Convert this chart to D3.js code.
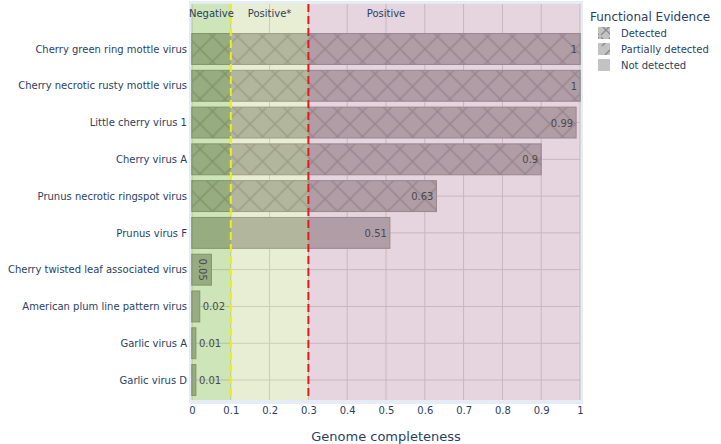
<!DOCTYPE html>
<html>
<head>
<meta charset="utf-8">
<script src="https://cdn.jsdelivr.net/npm/d3@7"></script>
<style>
  html, body { margin: 0; padding: 0; background: #fff; }
  svg { display: block; font-family: "DejaVu Sans", sans-serif; }
</style>
</head>
<body>
<svg id="chart" width="721" height="444"></svg>
<script>
// Viruses, top to bottom
const viruses = [
  "Cherry green ring mottle virus",
  "Cherry necrotic rusty mottle virus",
  "Little cherry virus 1",
  "Cherry virus A",
  "Prunus necrotic ringspot virus",
  "Prunus virus F",
  "Cherry twisted leaf associated virus",
  "American plum line pattern virus",
  "Garlic virus A",
  "Garlic virus D"
];
// Genome completeness per virus
const completeness = [1, 1, 0.99, 0.9, 0.63, 0.51, 0.05, 0.02, 0.01, 0.01];
// Functional evidence per virus
const evidence = ["Detected", "Detected", "Detected", "Detected", "Detected",
  "Not detected", "Not detected", "Not detected", "Not detected", "Not detected"];
const evidenceLevels = ["Detected", "Partially detected", "Not detected"];
// Classification bands along the completeness axis
const bandNames = ["Negative", "Positive*", "Positive"];
const bandStarts = [0, 0.1, 0.3];
const bandEnds = [0.1, 0.3, 1];
const thresholds = [0.1, 0.3];
const xTicks = [0, 0.1, 0.2, 0.3, 0.4, 0.5, 0.6, 0.7, 0.8, 0.9, 1];

const svg = d3.select("#chart");
const textColor = "#2a3f5f";

const x = d3.scaleLinear().domain([0, 1]).range([192, 580]);
const y = d3.scalePoint().domain(viruses).range([49, 380]);
const barH = y.step() * 0.84;
const plotTop = 4, plotBottom = 400;

// patterns
const defs = svg.append("defs");
const cross = defs.append("pattern").attr("id", "cross")
  .attr("patternUnits", "userSpaceOnUse").attr("width", 25).attr("height", 25)
  .attr("x", 187.5).attr("y", 36.5);
cross.append("path").attr("d", "M0,0L25,25M25,0L0,25M-1,24L1,26M24,-1L26,1M24,26L26,24M-1,1L1,-1")
  .attr("stroke", "#625a5a").attr("stroke-width", 1.3).attr("fill", "none");
const lcross = defs.append("pattern").attr("id", "lcross")
  .attr("patternUnits", "userSpaceOnUse").attr("width", 12).attr("height", 12);
lcross.append("path").attr("d", "M1,1L11,11M11,1L1,11").attr("stroke", "#8c8c8c").attr("stroke-width", 1.4);
const lslash = defs.append("pattern").attr("id", "lslash")
  .attr("patternUnits", "userSpaceOnUse").attr("width", 12).attr("height", 12);
lslash.append("path").attr("d", "M2,10L10,2").attr("stroke", "#8c8c8c").attr("stroke-width", 1.6);

// plot background frame
svg.append("rect").attr("x", 189).attr("y", 1).attr("width", 394).attr("height", 403)
  .attr("fill", "#e5ecf6");
svg.append("rect").attr("x", x(0)).attr("y", plotTop).attr("width", x(1) - x(0))
  .attr("height", plotBottom - plotTop).attr("fill", "#ffffff");

// gridlines
const grid = svg.append("g");
grid.selectAll("line.v").data(xTicks).join("line")
  .attr("x1", d => x(d)).attr("x2", d => x(d)).attr("y1", plotTop).attr("y2", plotBottom)
  .attr("stroke", "#c4bcc0").attr("stroke-width", 1);
grid.selectAll("line.h").data(viruses).join("line")
  .attr("x1", x(0)).attr("x2", x(1)).attr("y1", d => y(d)).attr("y2", d => y(d))
  .attr("stroke", "#c4bcc0").attr("stroke-width", 1);

// bars
const bars = svg.append("g");
bars.selectAll("rect.bar").data(viruses).join("rect")
  .attr("x", x(0)).attr("y", d => y(d) - barH / 2)
  .attr("width", (d, i) => x(completeness[i]) - x(0)).attr("height", barH)
  .attr("fill", "#928e8f").attr("stroke", "#665f60").attr("stroke-width", 1);
bars.selectAll("rect.pat").data(viruses.filter((d, i) => evidence[i] === "Detected")).join("rect")
  .attr("x", x(0)).attr("y", d => y(d) - barH / 2)
  .attr("width", d => x(completeness[viruses.indexOf(d)]) - x(0)).attr("height", barH)
  .attr("fill", "url(#cross)");

// classification bands, translucent on top
const bandColors = ["#9dc973", "#d1dda9", "#cdabbd"];
svg.append("g").selectAll("rect").data(bandNames).join("rect")
  .attr("x", (d, i) => x(bandStarts[i])).attr("y", plotTop)
  .attr("width", (d, i) => x(bandEnds[i]) - x(bandStarts[i]))
  .attr("height", plotBottom - plotTop)
  .attr("fill", (d, i) => bandColors[i]).attr("opacity", 0.5);

// threshold lines
svg.append("g").selectAll("line").data(thresholds).join("line")
  .attr("x1", d => x(d)).attr("x2", d => x(d)).attr("y1", plotTop).attr("y2", plotBottom)
  .attr("stroke", (d, i) => i === 0 ? "#f0ec1c" : "#e41a1c")
  .attr("stroke-width", 2).attr("stroke-dasharray", "8,4");

// band labels
const bandLabelX = [0.05, 0.2, 0.5];
svg.append("g").selectAll("text").data(bandNames).join("text")
  .attr("x", (d, i) => x(bandLabelX[i])).attr("y", 17)
  .attr("text-anchor", "middle").attr("font-size", 10).attr("fill", textColor)
  .text(d => d);

// value labels
const labels = svg.append("g").attr("font-size", 10).attr("fill", "#4a4a4a");
viruses.forEach((v, i) => {
  const val = completeness[i];
  const w = x(val) - x(0);
  const t = labels.append("text").text(String(val));
  if (w > 40) {
    t.attr("x", x(val) - 3).attr("y", y(v) + 4).attr("text-anchor", "end");
  } else if (w > 15) {
    t.attr("transform", `translate(${x(0) + w / 2 - 3},${y(v)}) rotate(90)`)
      .attr("text-anchor", "middle");
  } else {
    t.attr("x", x(val) + 3).attr("y", y(v) + 4).attr("text-anchor", "start");
  }
});

// axes
const xAxis = svg.append("g").attr("transform", `translate(0,${plotBottom})`)
  .call(d3.axisBottom(x).tickValues(xTicks).tickSize(0).tickPadding(7)
    .tickFormat(d => d3.format("")(+d.toFixed(1))));
xAxis.select(".domain").remove();
xAxis.selectAll("text").attr("font-size", 10).attr("fill", textColor)
  .attr("font-family", "DejaVu Sans, sans-serif");

const yAxis = svg.append("g").attr("transform", `translate(${x(0)},0)`)
  .call(d3.axisLeft(y).tickSize(0).tickPadding(5));
yAxis.select(".domain").remove();
yAxis.selectAll("text").attr("font-size", 10).attr("fill", textColor)
  .attr("font-family", "DejaVu Sans, sans-serif");

svg.append("text").attr("x", x(0.5)).attr("y", 441).attr("text-anchor", "middle")
  .attr("font-size", 13).attr("fill", textColor).text("Genome completeness");

// legend
const legend = svg.append("g");
legend.append("text").attr("x", 590).attr("y", 21).attr("font-size", 12)
  .attr("fill", textColor).text("Functional Evidence");
const fills = ["url(#lcross)", "url(#lslash)", null];
evidenceLevels.forEach((lvl, i) => {
  const cy = 33 + i * 16;
  legend.append("rect").attr("x", 598).attr("y", cy - 6).attr("width", 12).attr("height", 12)
    .attr("fill", "#c3c3c3");
  if (fills[i]) legend.append("rect").attr("x", 598).attr("y", cy - 6).attr("width", 12).attr("height", 12)
    .attr("fill", fills[i]);
  legend.append("text").attr("x", 621).attr("y", cy + 4).attr("font-size", 10)
    .attr("fill", textColor).text(lvl);
});
</script>
</body>
</html>
